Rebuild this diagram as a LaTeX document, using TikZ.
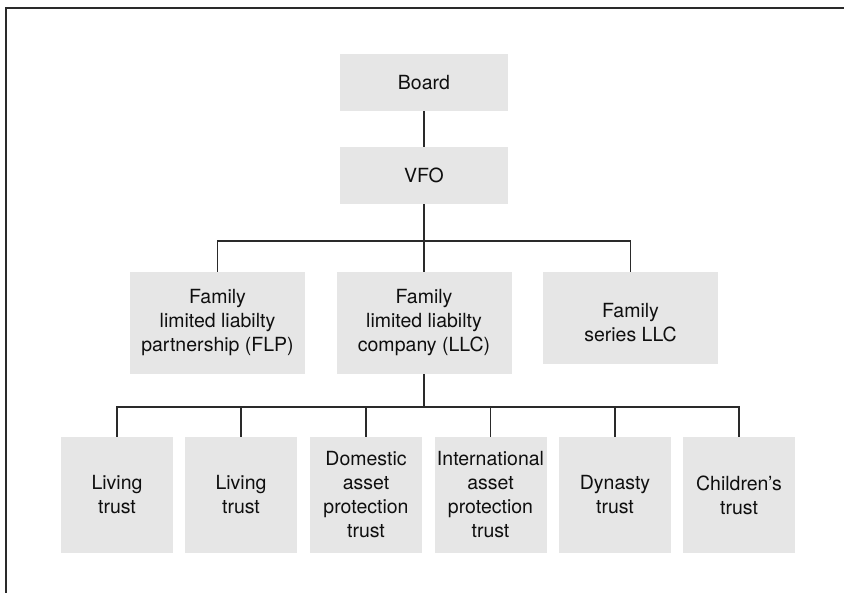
\documentclass[tikz,border=0pt]{standalone}
\usepackage{fontspec}
\setmainfont{TeX Gyre Heros}
\begin{document}
\begin{tikzpicture}[x=1pt,y=-1pt,
  box/.style={fill=boxgray, draw=none, align=center, inner sep=0pt,
    font=\fontsize{19.5}{24}\selectfont, text=textdark},
  topbox/.style={box, minimum width=168pt, minimum height=57pt},
  midbox/.style={box, minimum width=175pt, minimum height=102pt},
  trustbox/.style={box, minimum width=112pt, minimum height=116pt},
  link/.style={draw=linedark, line width=1.1pt},
  frame/.style={draw=linedark, line width=1.4pt}]
\definecolor{boxgray}{HTML}{E6E6E6}
\definecolor{textdark}{HTML}{0F0F0F}
\definecolor{linedark}{HTML}{2A2A2A}
\useasboundingbox (0,0) rectangle (844,593);

% page frame (top and left rules)
\draw[frame] (6,593) -- (6,8) -- (844,8);

% bus levels
\coordinate (busA) at (0,241);
\coordinate (busB) at (0,407);

% top levels
\node[topbox] (board) at (424,82.5) {Board};
\node[topbox] (vfo) at (424,175.5) {VFO};

% entity level
\node[midbox] (flp) at (217.5,323) {Family\\limited liabilty\\partnership (FLP)};
\node[midbox] (llc) at (424,323) {Family\\limited liabilty\\company (LLC)};
\node[midbox, minimum height=92pt] (series) at (630.5,318) {};
\node[box] (seriestext) at (630.5,323) {Family\\series LLC};

% trust level
\node[trustbox] (t1) at (117,495) {Living\\trust};
\node[trustbox] (t2) at (241,495) {Living\\trust};
\node[trustbox] (t3) at (366,495) {Domestic\\asset\\protection\\trust};
\node[trustbox] (t4) at (490.5,495) {International\\asset\\protection\\trust};
\node[trustbox] (t5) at (615,495) {Dynasty\\trust};
\node[trustbox] (t6) at (739,495) {Children’s\\trust};

% connectors
\draw[link] (board.south) -- (vfo.north);
\draw[link] (vfo.south) -- (vfo |- busA);
\draw[link] (flp.north) -- (flp |- busA) -- (series |- busA) -- (series.north);
\draw[link] (llc.north) -- (llc |- busA);
\draw[link] (llc.south) -- (llc |- busB);
\draw[link] (t1.north) -- (t1 |- busB) -- (t6 |- busB) -- (t6.north);
\foreach \t in {t2,t3,t4,t5}
  \draw[link] (\t.north) -- (\t |- busB);
\end{tikzpicture}
\end{document}
